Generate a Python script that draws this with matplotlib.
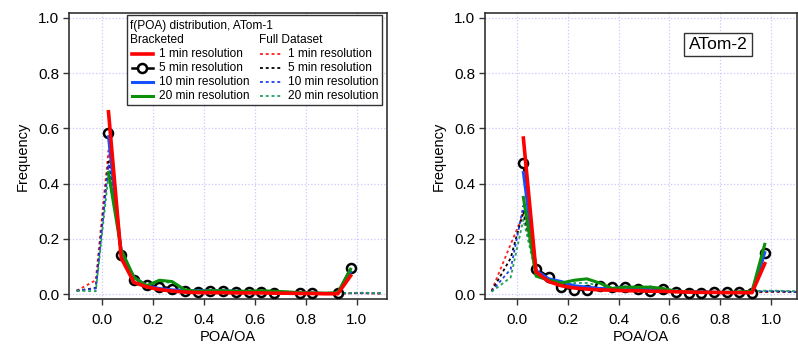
import numpy as np
import matplotlib
matplotlib.use("Agg")
import matplotlib.pyplot as plt
from matplotlib.lines import Line2D
from matplotlib.patches import Rectangle

plt.rcParams['font.family'] = ['Liberation Sans', 'DejaVu Sans']

# bin centres for the bracketed data, and the wider grid of the full dataset
x_br = [0.025, 0.075, 0.125, 0.175, 0.225, 0.275, 0.325, 0.375, 0.425, 0.475,
        0.525, 0.575, 0.625, 0.675, 0.725, 0.775, 0.825, 0.875, 0.925, 0.975]
x_full = [-0.1, -0.025] + x_br + [1.025, 1.1]

labels = ["1 min resolution", "5 min resolution", "10 min resolution", "20 min resolution"]

# ---- ATom-1 ----
a1_br_1 = [0.66, 0.13, 0.042, 0.026, 0.016, 0.011, 0.007, 0.005, 0.005, 0.005,
           0.004, 0.004, 0.004, 0.003, 0.003, 0.002, 0.002, 0.001, 0.001, 0.066]
a1_br_5 = [0.583, 0.14, 0.05, 0.033, 0.027, 0.02, 0.01, 0.008, 0.01, 0.01,
           0.008, 0.006, 0.006, 0.004, np.nan, 0.004, 0.005, np.nan, 0.003, 0.093]
a1_br_10 = [0.57, 0.15, 0.06, 0.03, 0.02, 0.015, 0.012, 0.012, 0.012, 0.012,
            0.01, 0.008, 0.008, 0.006, 0.005, 0.004, 0.003, 0.002, 0.002, 0.08]
a1_br_20 = [0.44, 0.16, 0.06, 0.03, 0.05, 0.045, 0.015, 0.01, 0.012, 0.012,
            0.01, 0.01, 0.012, 0.01, 0.008, 0.005, 0.004, 0.003, 0.005, 0.09]
a1_full_1 = [0.012, 0.05, 0.52, 0.14, 0.045, 0.025, 0.018, 0.012, 0.008, 0.007, 0.007, 0.007,
             0.006, 0.005, 0.005, 0.004, 0.004, 0.003, 0.003, 0.003, 0.002, 0.003, 0.003, 0.002]
a1_full_5 = [0.012, 0.022, 0.48, 0.15, 0.05, 0.03, 0.02, 0.015, 0.01, 0.008, 0.008, 0.007,
             0.006, 0.006, 0.005, 0.004, 0.004, 0.003, 0.003, 0.003, 0.002, 0.003, 0.003, 0.002]
a1_full_10 = [0.012, 0.02, 0.47, 0.15, 0.055, 0.03, 0.02, 0.015, 0.012, 0.01, 0.01, 0.008,
              0.007, 0.006, 0.005, 0.005, 0.004, 0.003, 0.003, 0.003, 0.003, 0.003, 0.004, 0.003]
a1_full_20 = [0.012, 0.01, 0.43, 0.16, 0.06, 0.03, 0.045, 0.04, 0.012, 0.01, 0.01, 0.009,
              0.008, 0.007, 0.006, 0.005, 0.005, 0.004, 0.003, 0.003, 0.004, 0.004, 0.005, 0.003]

# ---- ATom-2 ----
a2_br_1 = [0.565, 0.08, 0.045, 0.03, 0.022, 0.018, 0.015, 0.014, 0.012, 0.012,
           0.01, 0.01, 0.008, 0.007, 0.006, 0.006, 0.005, 0.005, 0.005, 0.11]
a2_br_5 = [0.476, 0.092, 0.062, 0.025, 0.016, 0.014, 0.028, 0.025, 0.025, 0.018,
           0.011, 0.02, 0.006, 0.004, 0.004, 0.006, 0.006, 0.006, 0.002, 0.149]
a2_br_10 = [0.44, 0.085, 0.055, 0.045, 0.03, 0.025, 0.02, 0.02, 0.025, 0.02,
            0.015, 0.015, 0.01, 0.008, 0.007, 0.006, 0.006, 0.006, 0.008, 0.15]
a2_br_20 = [0.35, 0.065, 0.05, 0.04, 0.05, 0.055, 0.04, 0.02, 0.025, 0.025,
            0.025, 0.02, 0.01, 0.008, 0.006, 0.006, 0.006, 0.008, 0.01, 0.18]
a2_full_1 = [0.012, 0.18, 0.29, 0.08, 0.045, 0.03, 0.02, 0.018, 0.015, 0.014, 0.013, 0.012,
             0.01, 0.009, 0.008, 0.007, 0.006, 0.006, 0.006, 0.007, 0.006, 0.007, 0.008, 0.007]
a2_full_5 = [0.01, 0.13, 0.30, 0.085, 0.05, 0.035, 0.025, 0.02, 0.018, 0.018, 0.016, 0.014,
             0.012, 0.01, 0.009, 0.008, 0.007, 0.007, 0.007, 0.008, 0.008, 0.009, 0.009, 0.008]
a2_full_10 = [0.01, 0.09, 0.32, 0.085, 0.05, 0.035, 0.025, 0.02, 0.02, 0.02, 0.02, 0.016,
              0.014, 0.012, 0.01, 0.009, 0.008, 0.008, 0.008, 0.009, 0.009, 0.01, 0.01, 0.008]
a2_full_20 = [0.008, 0.06, 0.27, 0.07, 0.045, 0.035, 0.04, 0.04, 0.03, 0.02, 0.022, 0.02,
              0.02, 0.016, 0.012, 0.01, 0.009, 0.009, 0.009, 0.01, 0.011, 0.012, 0.012, 0.01]

# line styles (bracketed solid, full dataset dashed)
br_styles = [
    dict(color='#ff0000', lw=2.6, zorder=6),
    dict(color='black', lw=1.8, marker='o', ms=6.5, mfc='white', mew=1.8, zorder=3),
    dict(color='#1450ff', lw=2.2, zorder=4),
    dict(color='#0c900c', lw=2.2, zorder=5),
]
full_styles = [
    dict(color='#ff2020', lw=1.3, ls=(0, (1.6, 1.6)), zorder=2),
    dict(color='black', lw=1.3, ls=(0, (1.6, 1.6)), zorder=2),
    dict(color='#2040e8', lw=1.3, ls=(0, (1.6, 1.6)), zorder=2),
    dict(color='#20a060', lw=1.3, ls=(0, (1.6, 1.6)), zorder=2),
]


def style_axes(ax, xlim):
    ax.set_xlim(*xlim)
    ax.set_ylim(-0.018, 1.018)
    ax.set_xticks([0.0, 0.2, 0.4, 0.6, 0.8, 1.0])
    ax.set_yticks([0.0, 0.2, 0.4, 0.6, 0.8, 1.0])
    ax.xaxis.set_major_formatter(plt.FormatStrFormatter('%.1f'))
    ax.yaxis.set_major_formatter(plt.FormatStrFormatter('%.1f'))
    ax.grid(True, color='#c8c8ff', ls=':', lw=0.9)
    ax.set_axisbelow(True)
    ax.tick_params(direction='out', length=4, width=1, color='#333333',
                   labelsize=11, pad=3)
    ax.tick_params(axis='x', pad=6)
    for s in ax.spines.values():
        s.set_color('#333333')
        s.set_linewidth(1.2)
    ax.set_xlabel("POA/OA", fontsize=10.5, labelpad=2)
    ax.set_ylabel("Frequency", fontsize=10.5, labelpad=6)


def draw_panel(ax, br, full):
    for y, st in zip(full, full_styles):
        ax.plot(x_full, y, **st)
    for y, st in zip(br, br_styles):
        ax.plot(x_br, y, **st)


fig = plt.figure(figsize=(7.98, 3.46), dpi=100)
ax1 = fig.add_axes([69 / 798, 47 / 346, 318 / 798, 286 / 346])
ax2 = fig.add_axes([485 / 798, 47 / 346, 312 / 798, 286 / 346])

draw_panel(ax1, [a1_br_1, a1_br_5, a1_br_10, a1_br_20],
           [a1_full_1, a1_full_5, a1_full_10, a1_full_20])
draw_panel(ax2, [a2_br_1, a2_br_5, a2_br_10, a2_br_20],
           [a2_full_1, a2_full_5, a2_full_10, a2_full_20])
style_axes(ax1, (-0.13, 1.118))
style_axes(ax2, (-0.126, 1.102))

# legend box in the left panel, laid out like the original two-column key
tr = ax1.transAxes
fs = 8.6
ax1.add_patch(Rectangle((0.182, 0.678), 0.802, 0.315, transform=tr,
                        facecolor='white', edgecolor='#333333', lw=1.0, zorder=10))
ax1.text(0.192, 0.955, "f(POA) distribution, ATom-1", transform=tr,
         fontsize=fs, va='center', zorder=11)
ax1.text(0.192, 0.906, "Bracketed", transform=tr, fontsize=fs, va='center', zorder=11)
ax1.text(0.597, 0.906, "Full Dataset", transform=tr, fontsize=fs, va='center', zorder=11)
rows = [0.857, 0.808, 0.759, 0.710]
for yy, lab, bst, fst in zip(rows, labels, br_styles, full_styles):
    b = dict(bst)
    b['zorder'] = 11
    h = Line2D([0.198, 0.264], [yy, yy], transform=tr, **b)
    if 'marker' in b:
        h.set_data([0.198, 0.231, 0.264], [yy, yy, yy])
        h.set_markevery([1])
    ax1.add_line(h)
    ax1.text(0.283, yy, lab, transform=tr, fontsize=fs, va='center', zorder=11)
    f = dict(fst)
    f['zorder'] = 11
    ax1.add_line(Line2D([0.601, 0.673], [yy, yy], transform=tr, **f))
    ax1.text(0.689, yy, lab, transform=tr, fontsize=fs, va='center', zorder=11)

ax2.text(0.747, 0.89, "ATom-2", transform=ax2.transAxes, fontsize=12.5,
         ha='center', va='center', zorder=11,
         bbox=dict(boxstyle='square,pad=0.25', facecolor='white', edgecolor='#333333', lw=1.0))

fig.savefig("out.png", dpi=100)
